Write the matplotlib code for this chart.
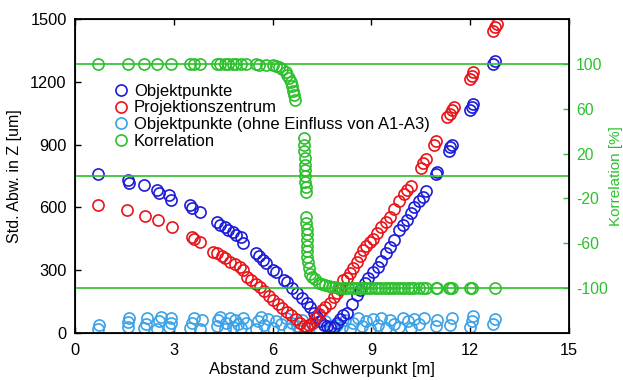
import matplotlib
matplotlib.use('Agg')
import matplotlib.pyplot as plt
from matplotlib.lines import Line2D

plt.rcParams['font.family'] = ['Liberation Sans', 'DejaVu Sans']
plt.rcParams['axes.unicode_minus'] = False

# Objektpunkte (Std. Abw. in Z [um])
obj_x = [0.7, 1.6, 1.65, 2.1, 2.5, 2.55, 2.85, 2.9, 3.5, 3.55, 3.8,
         4.3, 4.4, 4.55, 4.65, 4.8, 4.9, 5.05, 5.1, 5.5, 5.6, 5.7, 5.8,
         6.0, 6.1, 6.35, 6.45, 6.6, 6.75, 6.9, 7.05, 7.15, 7.25, 7.35,
         7.45, 7.55, 7.65, 7.75, 7.85, 7.95, 8.05, 8.15, 8.25, 8.4, 8.55,
         8.65, 8.8, 8.9, 9.05, 9.2, 9.3, 9.45, 9.55, 9.7, 9.85, 9.95,
         10.08, 10.2, 10.3, 10.45, 10.57, 10.65, 10.95, 11.0, 11.35, 11.4,
         11.45, 12.0, 12.05, 12.1, 12.7, 12.75]
obj_y = [760, 731, 716, 707, 683, 669, 659, 635, 611, 597, 578,
         530, 515, 506, 492, 483, 470, 459, 430, 382, 370, 349, 335,
         301, 290, 255, 244, 215, 191, 165, 143, 124, 96, 76,
         55, 40, 32, 29, 30, 48, 65, 85, 96, 140, 180,
         205, 240, 265, 290, 315, 345, 380, 410, 445, 490, 515,
         540, 575, 600, 630, 650, 680, 760, 770, 870, 889,
         900, 1065, 1080, 1095, 1285, 1300]

# Projektionszentrum
proj_x = [0.7, 1.57, 2.13, 2.52, 2.95, 3.55, 3.6, 3.8, 4.2, 4.3, 4.45,
          4.55, 4.7, 4.85, 5.0, 5.1, 5.22, 5.35, 5.5, 5.62, 5.75, 5.9,
          6.01, 6.15, 6.3, 6.43, 6.55, 6.7, 6.83, 6.95, 7.04, 7.1, 7.2,
          7.3, 7.4, 7.5, 7.6, 7.74, 7.85, 7.95, 8.05, 8.14, 8.25, 8.35,
          8.45, 8.55, 8.65, 8.75, 8.85, 8.95, 9.05, 9.17, 9.3, 9.45, 9.56,
          9.7, 9.85, 10.0, 10.08, 10.2, 10.5, 10.57, 10.65, 10.9, 10.95,
          11.3, 11.38, 11.45, 11.5, 12.0, 12.05, 12.1, 12.7, 12.75, 12.8]
proj_y = [611, 588, 559, 540, 506, 459, 450, 435, 387, 380, 370,
          360, 340, 330, 315, 300, 268, 255, 235, 220, 200, 175,
          158, 140, 118, 100, 85, 65, 48, 35, 29, 40, 50,
          70, 90, 110, 125, 143, 170, 190, 210, 253, 265, 287,
          310, 340, 370, 397, 415, 435, 450, 478, 505, 530, 554,
          590, 630, 665, 683, 700, 790, 810, 830, 900, 915,
          1030, 1045, 1065, 1080, 1215, 1230, 1245, 1445, 1460, 1475]

# Objektpunkte (ohne Einfluss von A1-A3)
free_x = [0.7, 0.72, 1.6, 1.62, 1.65, 2.1, 2.15, 2.2, 2.5, 2.55, 2.6,
          2.85, 2.9, 2.92, 3.5, 3.55, 3.6, 3.8, 3.85, 4.3, 4.35, 4.4,
          4.55, 4.6, 4.7, 4.8, 4.85, 4.95, 5.05, 5.1, 5.2, 5.5, 5.55,
          5.65, 5.75, 5.85, 6.0, 6.1, 6.25, 6.4, 6.5, 6.6, 6.75, 6.9,
          7.05, 7.2, 7.4, 7.6, 7.8, 7.95, 8.1, 8.2, 8.35, 8.45, 8.6,
          8.7, 8.85, 8.95, 9.05, 9.2, 9.3, 9.45, 9.55, 9.7, 9.85, 9.95,
          10.1, 10.2, 10.3, 10.45, 10.6, 10.95, 11.0, 11.4, 11.45,
          12.0, 12.05, 12.1, 12.7, 12.75]
free_y = [20, 38, 30, 52, 72, 25, 45, 70, 20, 55, 75,
          30, 50, 72, 25, 48, 70, 20, 60, 35, 60, 75,
          20, 50, 72, 30, 60, 45, 25, 70, 50, 20, 55,
          75, 40, 65, 25, 55, 45, 70, 20, 50, 35, 60,
          25, 45, 20, 55, 35, 40, 30, 60, 20, 50, 70,
          35, 55, 20, 65, 40, 70, 25, 60, 45, 30, 70,
          55, 25, 65, 45, 70, 35, 60, 40, 70,
          30, 55, 80, 45, 65]

# Korrelation [%]
corr_x = [0.7, 1.6, 2.1, 2.5, 2.9, 3.5, 3.6, 3.8, 4.3, 4.4, 4.55, 4.65,
          4.8, 4.9, 5.05, 5.2, 5.5, 5.6, 5.8, 6.0, 6.1, 6.2, 6.3, 6.4,
          6.45, 6.5, 6.55, 6.6, 6.62, 6.65, 6.68, 6.95, 6.95, 6.96, 6.97,
          6.97, 6.98, 6.98, 6.99, 7.0, 7.0, 7.02, 7.02, 7.03, 7.03, 7.04,
          7.04, 7.05, 7.05, 7.06, 7.1, 7.15, 7.2, 7.3, 7.4, 7.5, 7.6, 7.7,
          7.8, 7.9, 8.0, 8.1, 8.2, 8.3, 8.4, 8.5, 8.6, 8.7, 8.8, 8.9, 9.0,
          9.1, 9.2, 9.3, 9.4, 9.5, 9.6, 9.7, 9.8, 9.9, 10.0, 10.1, 10.2,
          10.3, 10.45, 10.57, 10.65, 10.95, 11.0, 11.35, 11.4, 11.45,
          12.0, 12.05, 12.75]
corr_y = [100, 100, 100, 100, 100, 100, 100, 100, 100, 100, 100, 100,
          100, 100, 100, 100, 100, 99, 99, 99, 98, 97, 95, 93,
          90, 87, 84, 80, 76, 72, 68, 34, 28, 22, 16,
          10, 5, 0, -5, -10, -14, -37, -42, -47, -52, -57,
          -62, -67, -72, -77, -82, -87, -90, -92, -95, -96, -97, -98,
          -99, -99, -100, -100, -100, -100, -100, -100, -100, -100, -100,
          -100, -100, -100, -100, -100, -100, -100, -100, -100, -100, -100,
          -100, -100, -100, -100, -100, -100, -100, -100, -100, -100,
          -100, -100, -100, -100, -100]

corr_lines = [100, 0, -100]

c_obj = '#1c1cd9'
c_proj = '#e8141a'
c_free = '#3aa2e8'
c_corr = '#2cc02c'

fig = plt.figure(figsize=(6.23, 3.80), dpi=100)
ax = fig.add_axes([0.1204, 0.1237, 0.7929, 0.8263])
ax2 = ax.twinx()

mk = dict(marker='o', linestyle='none', markersize=8, markerfacecolor='none',
          markeredgewidth=1.2)
ax.plot(free_x, free_y, markeredgecolor=c_free, **mk)
ax.plot(obj_x, obj_y, markeredgecolor=c_obj, **mk)
ax.plot(proj_x, proj_y, markeredgecolor=c_proj, **mk)

for v in corr_lines:
    ax2.axhline(v, color=c_corr, linewidth=1.2)
ax2.plot(corr_x, corr_y, markeredgecolor=c_corr, **mk)

ax.set_xlim(0, 15)
ax.set_ylim(0, 1500)
ax.set_xticks([0, 3, 6, 9, 12, 15])
ax.set_yticks([0, 300, 600, 900, 1200, 1500])
ax2.set_ylim(-140, 140)
ax2.set_yticks([-100, -60, -20, 20, 60, 100])

ax.tick_params(axis='both', direction='in', top=True, right=False,
               labelsize=11.8, length=4, width=1)
ax.tick_params(axis='x', pad=7)
ax.tick_params(axis='y', pad=6)
ax2.tick_params(axis='y', direction='in', colors=c_corr, labelsize=11.3,
                length=4, width=1, pad=5)
for t in ax2.yaxis.get_ticklines():
    t.set_color('black')
for s in ['top', 'bottom', 'left', 'right']:
    ax2.spines[s].set_linewidth(1.3)
ax.set_xlabel('Abstand zum Schwerpunkt [m]', fontsize=12, labelpad=3)
ax.set_ylabel('Std. Abw. in Z [um]', fontsize=11.5, labelpad=6)
ax2.set_ylabel('Korrelation [%]', fontsize=11, color=c_corr, labelpad=1)

handles = [Line2D([], [], markeredgecolor=c, **mk)
           for c in [c_obj, c_proj, c_free, c_corr]]
labels = ['Objektpunkte', 'Projektionszentrum',
          'Objektpunkte (ohne Einfluss von A1-A3)', 'Korrelation']
ax2.legend(handles, labels, loc='upper left', bbox_to_anchor=(0.077, 0.794),
           frameon=False, fontsize=12, handlelength=0.9, handletextpad=0.35,
           labelspacing=0.1, borderpad=0, borderaxespad=0)

fig.savefig('out.png', dpi=100)
